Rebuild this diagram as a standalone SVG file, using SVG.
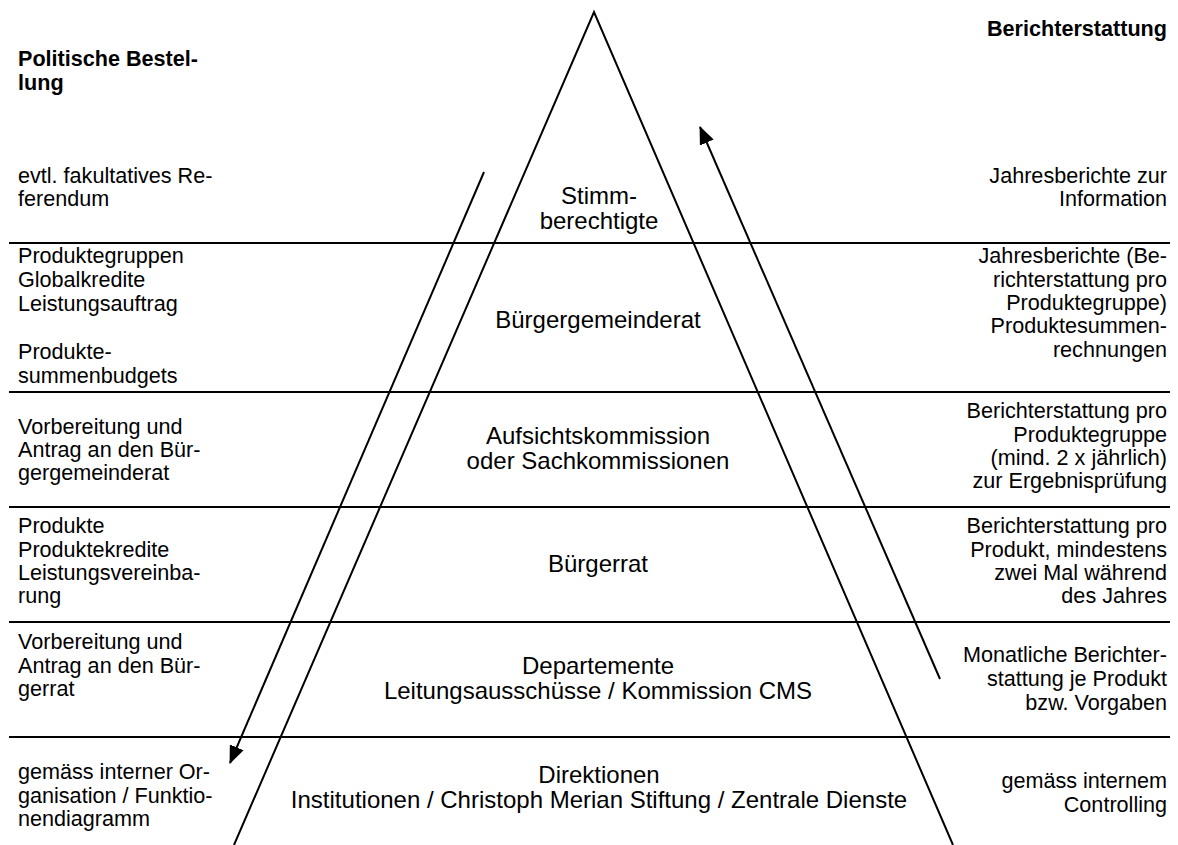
<svg xmlns="http://www.w3.org/2000/svg" width="1178" height="845" viewBox="0 0 1178 845">
<style>
text{font-family:"Liberation Sans",Arial,sans-serif;font-size:21.6px;fill:#000}
.b{font-weight:bold}
.l{text-anchor:start}
.r{text-anchor:end}
.c{text-anchor:middle;font-size:24px}
.ln{stroke:#000;stroke-width:2;fill:none}
</style>
<defs>
<marker id="ah" markerUnits="userSpaceOnUse" markerWidth="18" markerHeight="15" viewBox="0 0 18 15" refX="17" refY="7.5" orient="auto">
<path d="M0,0 L18,7.5 L0,15 Z" fill="#000"/>
</marker>
</defs>
<rect width="1178" height="845" fill="#fff"/>
<g id="frame" class="ln">
<path d="M234,845 L594,12 L953,845"/>
<line x1="9" y1="243" x2="1170" y2="243"/>
<line x1="9" y1="392" x2="1170" y2="392"/>
<line x1="9" y1="507" x2="1170" y2="507"/>
<line x1="9" y1="622" x2="1170" y2="622"/>
<line x1="9" y1="737" x2="1170" y2="737"/>
</g>
<g id="connectors" class="ln">
<line id="arrow-down" x1="484" y1="172" x2="230" y2="763" marker-end="url(#ah)"/>
<line id="arrow-up" x1="940" y1="679" x2="700" y2="127" marker-end="url(#ah)"/>
</g>
<g id="header-left"><text class="l b" x="18" y="66">Politische Bestel-</text><text class="l b" x="18" y="90">lung</text></g>
<g id="header-right"><text class="r b" x="1167" y="36">Berichterstattung</text></g>
<g id="tier1">
<text class="c" x="599" y="204">Stimm-</text><text class="c" x="599" y="229">berechtigte</text>
<text class="l" x="18" y="183">evtl. fakultatives Re-</text><text class="l" x="18" y="206">ferendum</text>
<text class="r" x="1167" y="183">Jahresberichte zur</text><text class="r" x="1167" y="206">Information</text>
</g>
<g id="tier2">
<text class="c" x="598" y="328">Bürgergemeinderat</text>
<text class="l" x="18" y="263">Produktegruppen</text><text class="l" x="18" y="287">Globalkredite</text><text class="l" x="18" y="311">Leistungsauftrag</text><text class="l" x="18" y="359">Produkte-</text><text class="l" x="18" y="383">summenbudgets</text>
<text class="r" x="1167" y="263">Jahresberichte (Be-</text><text class="r" x="1167" y="287">richterstattung pro</text><text class="r" x="1167" y="310">Produktegruppe)</text><text class="r" x="1167" y="333">Produktesummen-</text><text class="r" x="1167" y="357">rechnungen</text>
</g>
<g id="tier3">
<text class="c" x="598" y="444">Aufsichtskommission</text><text class="c" x="598" y="469">oder Sachkommissionen</text>
<text class="l" x="18" y="434">Vorbereitung und</text><text class="l" x="18" y="457">Antrag an den Bür-</text><text class="l" x="18" y="480">gergemeinderat</text>
<text class="r" x="1167" y="418">Berichterstattung pro</text><text class="r" x="1167" y="442">Produktegruppe</text><text class="r" x="1167" y="465">(mind. 2 x jährlich)</text><text class="r" x="1167" y="488">zur Ergebnisprüfung</text>
</g>
<g id="tier4">
<text class="c" x="598" y="572">Bürgerrat</text>
<text class="l" x="18" y="533">Produkte</text><text class="l" x="18" y="557">Produktekredite</text><text class="l" x="18" y="580">Leistungsvereinba-</text><text class="l" x="18" y="603">rung</text>
<text class="r" x="1167" y="533">Berichterstattung pro</text><text class="r" x="1167" y="557">Produkt, mindestens</text><text class="r" x="1167" y="580">zwei Mal während</text><text class="r" x="1167" y="603">des Jahres</text>
</g>
<g id="tier5">
<text class="c" x="598" y="674">Departemente</text><text class="c" x="598" y="699">Leitungsausschüsse / Kommission CMS</text>
<text class="l" x="18" y="649">Vorbereitung und</text><text class="l" x="18" y="673">Antrag an den Bür-</text><text class="l" x="18" y="696">gerrat</text>
<text class="r" x="1167" y="662">Monatliche Berichter-</text><text class="r" x="1167" y="686">stattung je Produkt</text><text class="r" x="1167" y="710">bzw. Vorgaben</text>
</g>
<g id="tier6">
<text class="c" x="599" y="783">Direktionen</text><text class="c" x="599" y="808">Institutionen / Christoph Merian Stiftung / Zentrale Dienste</text>
<text class="l" x="18" y="779">gemäss interner Or-</text><text class="l" x="18" y="803">ganisation / Funktio-</text><text class="l" x="18" y="826">nendiagramm</text>
<text class="r" x="1167" y="788">gemäss internem</text><text class="r" x="1167" y="812">Controlling</text>
</g>
</svg>
